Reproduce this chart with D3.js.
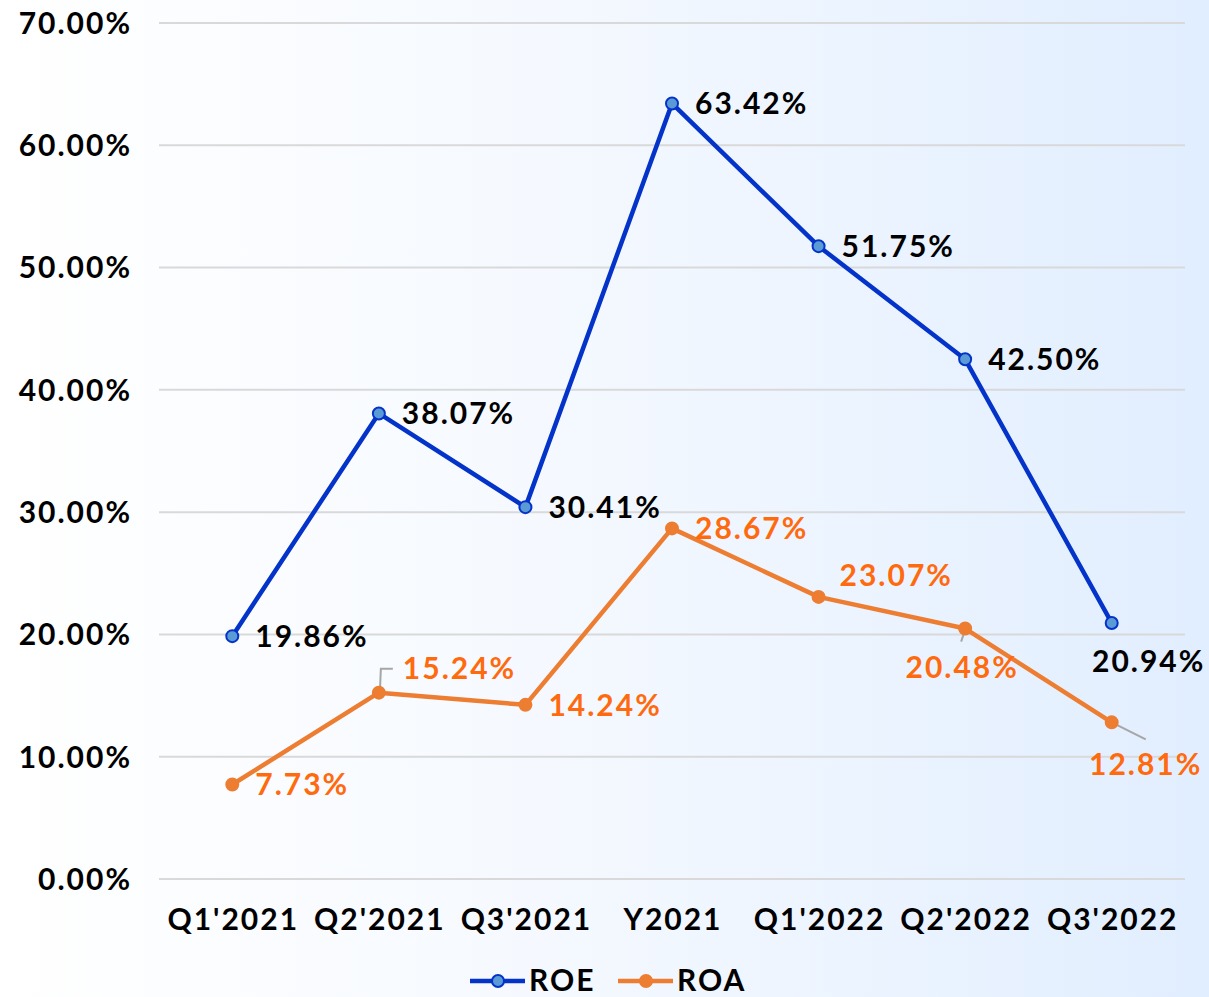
<!DOCTYPE html>
<html>
<head>
<meta charset="utf-8">
<script src="https://cdn.jsdelivr.net/npm/d3@7"></script>
<style>
  html, body { margin: 0; padding: 0; }
  body { width: 1209px; height: 997px; overflow: hidden; }
  text { font-family: Lato, "Open Sans", sans-serif; font-weight: 700; letter-spacing: 2px; }
</style>
</head>
<body>
<div id="chart"></div>
<script>
const categories = ["Q1'2021", "Q2'2021", "Q3'2021", "Y2021", "Q1'2022", "Q2'2022", "Q3'2022"];
const roe = [19.86, 38.07, 30.41, 63.42, 51.75, 42.50, 20.94];
const roa = [7.73, 15.24, 14.24, 28.67, 23.07, 20.48, 12.81];
const yTicks = [0, 10, 20, 30, 40, 50, 60, 70];

// where each data label sits relative to its marker
const roeLabelPos = ["right", "right", "right", "right", "right", "right", "belowRight"];
const roaLabelPos = ["right", "aboveLeader", "right", "right", "aboveRight", "below", "belowLeader"];

const width = 1209, height = 997;
const margin = { top: 23, right: 24, bottom: 118, left: 159 };
const fs = 30;

const svg = d3.select("#chart")
  .append("svg")
  .attr("width", width)
  .attr("height", height);

const defs = svg.append("defs");
const grad = defs.append("linearGradient")
  .attr("id", "bg")
  .attr("x1", "0%").attr("x2", "100%")
  .attr("y1", "0%").attr("y2", "0%");
grad.append("stop").attr("offset", "0%").attr("stop-color", "#ffffff");
grad.append("stop").attr("offset", "45%").attr("stop-color", "#f5f9ff");
grad.append("stop").attr("offset", "100%").attr("stop-color", "#e1eeff");

svg.append("rect")
  .attr("width", width)
  .attr("height", height)
  .attr("fill", "url(#bg)");

const x = d3.scaleBand()
  .domain(categories)
  .range([margin.left, width - margin.right]);

const y = d3.scaleLinear()
  .domain([0, 70])
  .range([height - margin.bottom, margin.top]);

const cx = d => x(d) + x.bandwidth() / 2;

// gridlines
svg.append("g")
  .selectAll("line")
  .data(yTicks)
  .join("line")
  .attr("x1", margin.left)
  .attr("x2", width - margin.right)
  .attr("y1", d => y(d))
  .attr("y2", d => y(d))
  .attr("stroke", "#d9d9d9")
  .attr("stroke-width", 2);

// y labels
svg.append("g")
  .selectAll("text")
  .data(yTicks)
  .join("text")
  .attr("x", 132)
  .attr("y", d => y(d))
  .attr("dy", "0.36em")
  .attr("text-anchor", "end")
  .attr("font-size", fs)
  .attr("fill", "#000")
  .text(d => d.toFixed(2) + "%");

// x labels
svg.append("g")
  .selectAll("text")
  .data(categories)
  .join("text")
  .attr("x", d => cx(d) + 1)
  .attr("y", 930)
  .attr("text-anchor", "middle")
  .attr("font-size", fs)
  .attr("fill", "#000")
  .text(d => d);

const line = d3.line()
  .x(d => cx(d.cat))
  .y(d => y(d.v));

function series(values, color, markerFill, labelColor, posList) {
  const pts = values.map((v, i) => ({ cat: categories[i], v, pos: posList[i] }));
  const g = svg.append("g");

  // leader lines first so they sit under markers
  pts.forEach(d => {
    const px = cx(d.cat), py = y(d.v);
    if (d.pos === "aboveLeader") {
      g.append("polyline")
        .attr("points", `${px + 1},${py} ${px + 2},${py - 24} ${px + 14},${py - 24}`)
        .attr("fill", "none").attr("stroke", "#a6a6a6").attr("stroke-width", 2);
    } else if (d.pos === "below") {
      g.append("line")
        .attr("x1", px).attr("y1", py + 1).attr("x2", px - 4).attr("y2", py + 13)
        .attr("stroke", "#a6a6a6").attr("stroke-width", 2);
    } else if (d.pos === "belowLeader") {
      g.append("line")
        .attr("x1", px).attr("y1", py).attr("x2", px + 34).attr("y2", py + 17)
        .attr("stroke", "#a6a6a6").attr("stroke-width", 2);
    }
  });

  g.append("path")
    .datum(pts)
    .attr("fill", "none")
    .attr("stroke", color)
    .attr("stroke-width", 4.5)
    .attr("stroke-linejoin", "round")
    .attr("d", line);

  g.selectAll("circle")
    .data(pts)
    .join("circle")
    .attr("cx", d => cx(d.cat))
    .attr("cy", d => y(d.v))
    .attr("r", 6)
    .attr("fill", markerFill)
    .attr("stroke", color)
    .attr("stroke-width", 2);

  g.selectAll("text")
    .data(pts)
    .join("text")
    .attr("font-size", fs)
    .attr("fill", labelColor)
    .attr("x", d => {
      const px = cx(d.cat);
      if (d.pos === "right") return px + 23;
      if (d.pos === "aboveLeader") return px + 24;
      if (d.pos === "aboveRight") return px + 21;
      if (d.pos === "below") return px - 3;
      if (d.pos === "belowRight") return px + 37;
      if (d.pos === "belowLeader") return px + 34;
    })
    .attr("y", d => {
      const py = y(d.v);
      if (d.pos === "right") return py + 11;
      if (d.pos === "aboveLeader") return py - 14;
      if (d.pos === "aboveRight") return py - 11;
      if (d.pos === "below" || d.pos === "belowRight") return py + 49;
      if (d.pos === "belowLeader") return py + 53;
    })
    .attr("text-anchor", d => d.pos.startsWith("below") ? "middle" : "start")
    .text(d => d.v.toFixed(2) + "%");
}

series(roe, "#0433c9", "#5b9bd5", "#000", roeLabelPos);
series(roa, "#ed7d31", "#ed7d31", "#ff6a0e", roaLabelPos);

// legend
const legend = [
  { name: "ROE", color: "#0433c9", fill: "#5b9bd5", x: 470 },
  { name: "ROA", color: "#ed7d31", fill: "#ed7d31", x: 618 }
];
const lg = svg.append("g");
legend.forEach(d => {
  lg.append("line")
    .attr("x1", d.x).attr("x2", d.x + 55)
    .attr("y1", 981).attr("y2", 981)
    .attr("stroke", d.color).attr("stroke-width", 4.5);
  lg.append("circle")
    .attr("cx", d.x + 28).attr("cy", 981).attr("r", 6)
    .attr("fill", d.fill).attr("stroke", d.color).attr("stroke-width", 2);
  lg.append("text")
    .attr("x", d.x + 59).attr("y", 991)
    .attr("font-size", fs).attr("fill", "#000")
    .text(d.name);
});
</script>
</body>
</html>
